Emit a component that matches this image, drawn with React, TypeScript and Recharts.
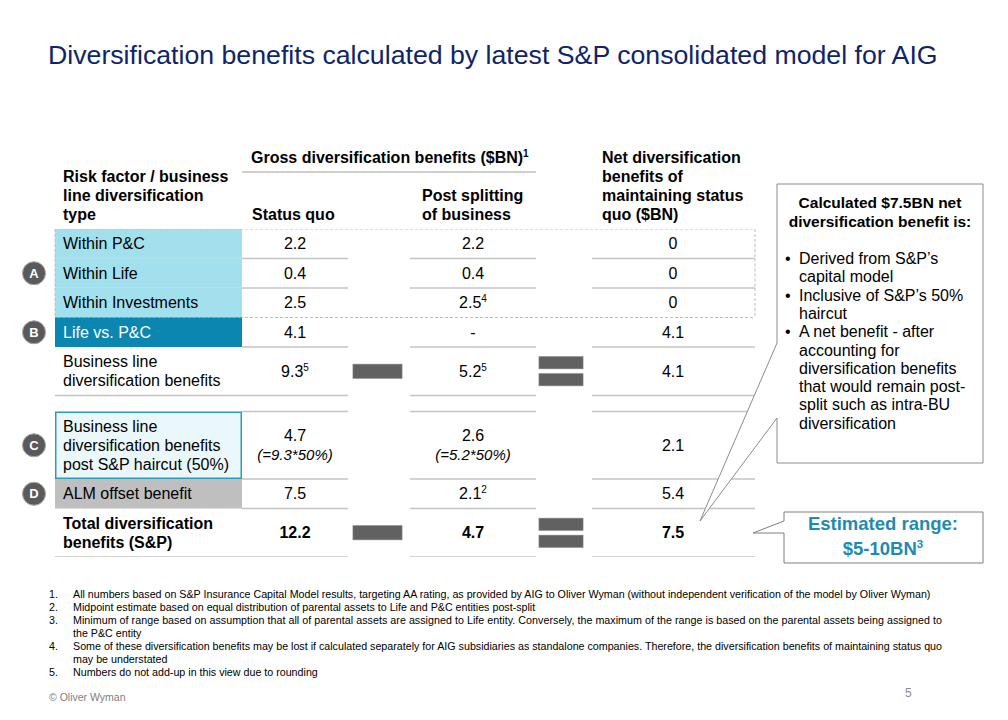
import React from 'react';
import { BarChart, Bar, XAxis, YAxis } from 'recharts';

// rows of the table, top to bottom
const rowLabels: string[][] = [
  ['Within P&C'],
  ['Within Life'],
  ['Within Investments'],
  ['Life vs. P&C'],
  ['Business line', 'diversification benefits'],
  [],
  ['Business line', 'diversification benefits', 'post S&P haircut (50%)'],
  ['ALM offset benefit'],
  ['Total diversification', 'benefits (S&P)'],
];
const rowKinds = ['within', 'within', 'within', 'lifePc', 'plain', 'gap', 'haircut', 'alm', 'total'];
const rowMarkers = ['', 'A', '', 'B', '', '', 'C', 'D', ''];
const rowOperators = [false, false, false, false, true, false, false, false, true];

// $BN
const statusQuo: (number | null)[] = [2.2, 0.4, 2.5, 4.1, 9.3, null, 4.7, 7.5, 12.2];
const postSplit: (number | null)[] = [2.2, 0.4, 2.5, null, 5.2, null, 2.6, 2.1, 4.7];
const netBenefit: (number | null)[] = [0, 0, 0, 4.1, 4.1, null, 2.1, 5.4, 7.5];
const statusQuoNotes = ['', '', '', '', '5', '', '', '', ''];
const postSplitNotes = ['', '', '4', '', '5', '', '', '2', ''];
const statusQuoFormula = ['', '', '', '', '', '', '(=9.3*50%)', '', ''];
const postSplitFormula = ['', '', '', '', '', '', '(=5.2*50%)', '', ''];

const calloutLines = [
  'Derived from S&P’s', 'capital model',
  'Inclusive of S&P’s 50%', 'haircut',
  'A net benefit - after', 'accounting for', 'diversification benefits',
  'that would remain post-', 'split such as intra-BU', 'diversification',
];
const calloutBullets = [true, false, true, false, true, false, false, false, false, false];

const footnotes: string[][] = [
  ['All numbers based on S&P Insurance Capital Model results, targeting AA rating, as provided by AIG to Oliver Wyman (without independent verification of the model by Oliver Wyman)'],
  ['Midpoint estimate based on equal distribution of parental assets to Life and P&C entities post-split'],
  ['Minimum of range based on assumption that all of parental assets are assigned  to Life entity. Conversely, the maximum of the range is based on the parental assets being assigned to', 'the P&C entity'],
  ['Some of  these diversification benefits may be lost if calculated separately for AIG subsidiaries as standalone companies.  Therefore, the diversification benefits of maintaining status quo', 'may be understated'],
  ['Numbers do not add-up in this view due to rounding'],
];

const LINE = 19;
const rowHeight = (lines: number) => (lines === 0 ? 16 : 10.5 + LINE * lines);
const tableHeight = rowLabels.reduce((s, l) => s + rowHeight(l.length), 0);
const tableData = [
  Object.fromEntries([['name', 'table'], ...rowLabels.map((l, i) => [`r${i}`, rowHeight(l.length)])]),
];

const SEP = '#C4C4C4';
const TEAL = '#0B86B0';

const fmt = (v: number | null) => (v === null ? '-' : v === 0 ? '0' : v.toFixed(1));

function TableRow(props: any) {
  const { x, y, width, height, i } = props;
  const top = Math.min(y, y + height);
  const h = Math.abs(height);
  const bottom = top + h;
  const cy = top + h / 2;
  const k = width / 700;
  const X = (o: number) => x + o * k;
  const kind = rowKinds[i];
  const bold = kind === 'total';
  const out: React.ReactNode[] = [];

  // label column background
  if (kind === 'within') out.push(<rect key="bg" x={X(0)} y={top} width={187 * k} height={h} fill="#A3E0EE" />);
  if (kind === 'lifePc') out.push(<rect key="bg" x={X(0)} y={top} width={187 * k} height={h} fill={TEAL} />);
  if (kind === 'alm') out.push(<rect key="bg" x={X(0)} y={top} width={187 * k} height={h} fill="#BFBFBF" />);
  if (kind === 'haircut')
    out.push(<rect key="bg" x={X(0) + 0.75} y={top + 0.75} width={187 * k - 1.5} height={h - 1.5} fill="#EBF8FB" stroke="#2C9BBB" strokeWidth={1.5} />);

  const lastWithin = kind === 'within' && rowKinds[i + 1] !== 'within';
  const firstWithin = kind === 'within' && rowKinds[i - 1] !== 'within';

  // separators under the value columns
  if (!lastWithin) {
    const segs: [number, number][] = [[187, 293], [355, 481], [537, 700]];
    if (kind === 'plain' || kind === 'total') segs[0] = [0, 293];
    segs.forEach(([a, b], j) =>
      out.push(<line key={`s${j}`} x1={X(a)} x2={X(b)} y1={bottom} y2={bottom} stroke={SEP} strokeWidth={1.5} />)
    );
    if (kind === 'within')
      out.push(<line key="sl" x1={X(0)} x2={X(187)} y1={bottom} y2={bottom} stroke="#C2E3EA" strokeWidth={1.2} />);
  }

  // dashed frame around the "within" block
  if (kind === 'within') {
    const d = { stroke: '#BDBDBD', strokeWidth: 1, strokeDasharray: '3 2' };
    out.push(<line key="dl" x1={X(0)} x2={X(0)} y1={top} y2={bottom} {...d} />);
    out.push(<line key="dr" x1={X(700)} x2={X(700)} y1={top} y2={bottom} {...d} />);
    if (firstWithin) out.push(<line key="dt" x1={X(0)} x2={X(700)} y1={top} y2={top} {...d} />);
    if (lastWithin) out.push(<line key="db" x1={X(0)} x2={X(700)} y1={bottom} y2={bottom} {...d} />);
  }

  // label text
  const labels = rowLabels[i];
  labels.forEach((t, j) =>
    out.push(
      <text key={`l${j}`} x={X(8)} y={cy + (j - (labels.length - 1) / 2) * LINE + 5.5} fontSize={16}
        fontWeight={bold ? 'bold' : 'normal'} fill={kind === 'lifePc' ? '#fff' : '#000'}>
        {t}
      </text>
    )
  );

  // values
  if (kind !== 'gap') {
    const cells: [number, number | null, string, string][] = [
      [240, statusQuo[i], statusQuoNotes[i], statusQuoFormula[i]],
      [418, postSplit[i], postSplitNotes[i], postSplitFormula[i]],
      [618, netBenefit[i], '', ''],
    ];
    cells.forEach(([cx, v, note, formula], j) => {
      out.push(
        <text key={`v${j}`} x={X(cx)} y={formula ? cy - 4 : cy + 5.5} textAnchor="middle" fontSize={16}
          fontWeight={bold ? 'bold' : 'normal'} fill="#000">
          {fmt(v)}
          {note && <tspan fontSize={10} dy={-6}>{note}</tspan>}
        </text>
      );
      if (formula)
        out.push(
          <text key={`f${j}`} x={X(cx)} y={cy + 15} textAnchor="middle" fontSize={15} fontStyle="italic" fill="#000">
            {formula}
          </text>
        );
    });
  }

  // minus / equals signs
  if (rowOperators[i]) {
    const op = { fill: '#616161', stroke: '#7A7A7A', strokeWidth: 0.75 };
    out.push(<rect key="m" x={X(298)} y={cy - 7} width={49 * k} height={14} {...op} />);
    out.push(<rect key="e1" x={X(484)} y={cy - 14.5} width={44 * k} height={12} {...op} />);
    out.push(<rect key="e2" x={X(484)} y={cy + 2.5} width={44 * k} height={12} {...op} />);
  }

  // letter marker
  if (rowMarkers[i]) {
    out.push(<circle key="c" cx={X(0) - 21} cy={cy} r={11.5} fill="#5A5A5A" stroke="#A8A8A8" strokeWidth={1} />);
    out.push(
      <text key="ct" x={X(0) - 21} y={cy + 4.5} textAnchor="middle" fontSize={13} fontWeight="bold" fill="#fff">
        {rowMarkers[i]}
      </text>
    );
  }

  return <g>{out}</g>;
}

export default function App() {
  const hdr = { fontSize: 16, fontWeight: 'bold' as const, fill: '#000' };
  return (
    <div
      style={{
        position: 'absolute', left: 0, top: 0, width: 1008, height: 720, background: '#fff',
        fontFamily: "'Liberation Sans', Arial, sans-serif", overflow: 'hidden',
      }}
    >
      <BarChart width={1008} height={720} data={tableData} barCategoryGap={0} barGap={0}
        margin={{ top: 229, bottom: 720 - 229 - tableHeight, left: 55, right: 253 }}>
        <XAxis dataKey="name" type="category" hide />
        <YAxis type="number" domain={[0, tableHeight]} allowDataOverflow reversed hide />
        {rowLabels.map((_, i) => (
          <Bar key={i} dataKey={`r${i}`} stackId="t" isAnimationActive={false}
            shape={(p: any) => <TableRow {...p} i={i} />} />
        ))}
      </BarChart>

      <svg width={1008} height={720} style={{ position: 'absolute', left: 0, top: 0, pointerEvents: 'none' }}>
        <text x={48} y={64} fontSize={26.7} fill="#0F2469">
          Diversification benefits calculated by latest S&P consolidated model for AIG
        </text>

        {/* column headers */}
        <text x={251} y={163} {...hdr}>
          Gross diversification benefits ($BN)<tspan fontSize={10} dy={-6}>1</tspan>
        </text>
        <line x1={242} x2={536} y1={172} y2={172} stroke="#BFBFBF" strokeWidth={1.5} />
        {['Risk factor / business', 'line diversification', 'type'].map((t, j) => (
          <text key={t} x={63} y={182 + j * LINE} {...hdr}>{t}</text>
        ))}
        <text x={252} y={220} {...hdr}>Status quo</text>
        {['Post splitting', 'of business'].map((t, j) => (
          <text key={t} x={422} y={201 + j * LINE} {...hdr}>{t}</text>
        ))}
        {['Net diversification', 'benefits of', 'maintaining status', 'quo ($BN)'].map((t, j) => (
          <text key={t} x={602} y={163 + j * LINE} {...hdr}>{t}</text>
        ))}

        {/* callout 1 */}
        <path d="M777,184 H983 V463 H777 V418 L700,521 L777,343 Z" fill="#fff" stroke="#8C8C8C" strokeWidth={1} />
        <text x={880} y={208} textAnchor="middle" fontSize={15.5} fontWeight="bold">Calculated $7.5BN net</text>
        <text x={880} y={227} textAnchor="middle" fontSize={15.5} fontWeight="bold">diversification benefit is:</text>
        {calloutLines.map((t, j) => (
          <g key={j}>
            {calloutBullets[j] && <text x={785} y={264 + j * 18.3} fontSize={16}>•</text>}
            <text x={799} y={264 + j * 18.3} fontSize={16}>{t}</text>
          </g>
        ))}

        {/* callout 2 */}
        <path d="M784,512 H983 V563 H784 V533 L753,533 L784,521 Z" fill="#fff" stroke="#7F7F7F" strokeWidth={1} />
        <text x={883} y={530} textAnchor="middle" fontSize={18.5} fontWeight="bold" fill="#1F8BB0">Estimated range:</text>
        <text x={883} y={555} textAnchor="middle" fontSize={18.5} fontWeight="bold" fill="#1F8BB0">
          $5-10BN<tspan fontSize={11.5} dy={-7}>3</tspan>
        </text>

        {/* footnotes */}
        {(() => {
          let line = 0;
          return footnotes.map((fn, n) => {
            const g = (
              <g key={n}>
                <text x={49} y={598 + line * 13} fontSize={10.7}>{`${n + 1}.`}</text>
                {fn.map((t, j) => (
                  <text key={j} x={73} y={598 + (line + j) * 13} fontSize={10.7}
                    {...(j < fn.length - 1 ? { textLength: 869, lengthAdjust: 'spacing' } : {})}>
                    {t}
                  </text>
                ))}
              </g>
            );
            line += fn.length;
            return g;
          });
        })()}

        <text x={49} y={701} fontSize={10.5} fill="#808080">© Oliver Wyman</text>
        <text x={905} y={697} fontSize={12} fill="#8C8C8C">5</text>
      </svg>
    </div>
  );
}
